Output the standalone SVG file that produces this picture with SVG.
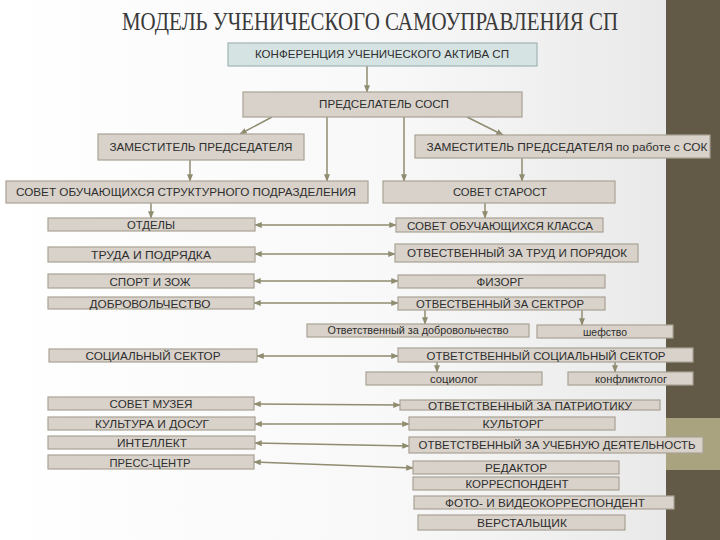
<svg xmlns="http://www.w3.org/2000/svg" width="720" height="540" viewBox="0 0 720 540">
<defs>
<linearGradient id="bg" x1="0" y1="0" x2="1" y2="0">
<stop offset="0" stop-color="#ffffff"/>
<stop offset="0.55" stop-color="#f8f8f8"/>
<stop offset="1" stop-color="#e6e6e6"/>
</linearGradient>
<marker id="ah" viewBox="0 0 10 10" refX="9" refY="5" markerWidth="5" markerHeight="5" orient="auto-start-reverse">
<path d="M0,1 L10,5 L0,9 z" fill="#8f8c70"/>
</marker>
<style>
.b{fill:#d8d2ca;stroke:#a9a294;stroke-width:1.2}
.bc{fill:#d6e3e3;stroke:#a0b4b4;stroke-width:1.2}
.t{font-family:"Liberation Sans",Arial,sans-serif;font-size:11px;fill:#2e2e2e;text-anchor:middle}
.s{font-size:10px}
.c{fill:none;stroke:#8f8c70;stroke-width:1.5}
.a{marker-end:url(#ah)}
.d{marker-start:url(#ah);marker-end:url(#ah)}
</style>
</defs>
<rect x="0" y="0" width="720" height="540" fill="url(#bg)"/>
<rect x="666" y="0" width="54" height="540" fill="#625a46"/>
<rect x="666" y="418" width="54" height="52" fill="#a9a37f"/>
<text x="370" y="30" font-family="'Liberation Serif','Times New Roman',serif" font-size="25" fill="#3a3a3a" text-anchor="middle" textLength="496" lengthAdjust="spacingAndGlyphs">МОДЕЛЬ УЧЕНИЧЕСКОГО САМОУПРАВЛЕНИЯ СП</text>

<g id="connectors">
<path class="c a" d="M367,66 L367,92"/>
<path class="c a" d="M272,117 L240,134"/>
<path class="c a" d="M327,117 L327,181"/>
<path class="c a" d="M404,117 L404,181"/>
<path class="c a" d="M467,117 L503,135"/>
<path class="c a" d="M190,160 L190,181"/>
<path class="c a" d="M522,158 L522,181"/>
<path class="c a" d="M151,203 L151,218"/>
<path class="c a" d="M485,203 L485,218"/>
<path class="c d" d="M255,225 L396,225"/>
<path class="c d" d="M255,254 L395,254"/>
<path class="c d" d="M254,281 L398,281"/>
<path class="c d" d="M254,303 L398,303"/>
<path class="c a" d="M425,310 L425,324"/>
<path class="c a" d="M582,310 L582,325"/>
<path class="c d" d="M257,356 L398,356"/>
<path class="c a" d="M437,362 L437,372"/>
<path class="c a" d="M615,362 L615,372"/>
<path class="c d" d="M254,404 L400,405"/>
<path class="c d" d="M255,424 L409,424"/>
<path class="c d" d="M255,443 L409,446"/>
<path class="c d" d="M254,462 L413,468"/>
</g>

<g id="n-conf"><rect class="bc" x="228" y="43" width="309" height="23"/><text class="t" x="382" y="58" textLength="254" lengthAdjust="spacingAndGlyphs">КОНФЕРЕНЦИЯ УЧЕНИЧЕСКОГО АКТИВА СП</text></g>
<g id="n-pred"><rect class="b" x="243" y="92" width="279" height="25"/><text class="t" x="384" y="108" textLength="130" lengthAdjust="spacingAndGlyphs">ПРЕДСЕЛАТЕЛЬ СОСП</text></g>
<g id="n-zam1"><rect class="b" x="98" y="134" width="206" height="26"/><text class="t" x="201" y="151" textLength="183" lengthAdjust="spacingAndGlyphs">ЗАМЕСТИТЕЛЬ ПРЕДСЕДАТЕЛЯ</text></g>
<g id="n-zam2"><rect class="b" x="415" y="135" width="295" height="23"/><text class="t" x="567" y="151" textLength="281" lengthAdjust="spacingAndGlyphs">ЗАМЕСТИТЕЛЬ ПРЕДСЕДАТЕЛЯ по работе с СОК</text></g>
<g id="n-sovet-sp"><rect class="b" x="6" y="181" width="362" height="22"/><text class="t" x="186" y="196" textLength="340" lengthAdjust="spacingAndGlyphs">СОВЕТ ОБУЧАЮЩИХСЯ СТРУКТУРНОГО ПОДРАЗДЕЛЕНИЯ</text></g>
<g id="n-starost"><rect class="b" x="383" y="181" width="232" height="22"/><text class="t" x="500" y="196" textLength="94" lengthAdjust="spacingAndGlyphs">СОВЕТ СТАРОСТ</text></g>

<g id="n-otdely"><rect class="b" x="48" y="218" width="207" height="13"/><text class="t" x="151" y="229" textLength="48" lengthAdjust="spacingAndGlyphs">ОТДЕЛЫ</text></g>
<g id="n-truda"><rect class="b" x="48" y="247" width="207" height="15"/><text class="t" x="151" y="259" textLength="120" lengthAdjust="spacingAndGlyphs">ТРУДА И ПОДРЯДКА</text></g>
<g id="n-sport"><rect class="b" x="48" y="274" width="206" height="14"/><text class="t" x="150" y="285.5" textLength="81" lengthAdjust="spacingAndGlyphs">СПОРТ И ЗОЖ</text></g>
<g id="n-dobro"><rect class="b" x="48" y="297" width="206" height="12"/><text class="t" x="150" y="307.5" textLength="121" lengthAdjust="spacingAndGlyphs">ДОБРОВОЛЬЧЕСТВО</text></g>
<g id="n-soc"><rect class="b" x="49" y="349" width="208" height="13"/><text class="t" x="153" y="360" textLength="135" lengthAdjust="spacingAndGlyphs">СОЦИАЛЬНЫЙ СЕКТОР</text></g>
<g id="n-muzey"><rect class="b" x="48" y="397" width="206" height="13"/><text class="t" x="151" y="408" textLength="83" lengthAdjust="spacingAndGlyphs">СОВЕТ МУЗЕЯ</text></g>
<g id="n-kult"><rect class="b" x="48" y="417" width="207" height="13"/><text class="t" x="152" y="428" textLength="114" lengthAdjust="spacingAndGlyphs">КУЛЬТУРА И ДОСУГ</text></g>
<g id="n-intel"><rect class="b" x="48" y="436" width="207" height="13"/><text class="t" x="152" y="447" textLength="70" lengthAdjust="spacingAndGlyphs">ИНТЕЛЛЕКТ</text></g>
<g id="n-press"><rect class="b" x="48" y="455" width="206" height="14"/><text class="t" x="150" y="466.5" textLength="81" lengthAdjust="spacingAndGlyphs">ПРЕСС-ЦЕНТР</text></g>

<g id="n-klass"><rect class="b" x="396" y="218" width="207" height="14"/><text class="t" x="500" y="229.5" textLength="186" lengthAdjust="spacingAndGlyphs">СОВЕТ ОБУЧАЮЩИХСЯ КЛАССА</text></g>
<g id="n-trud"><rect class="b" x="395" y="244" width="243" height="18"/><text class="t" x="517" y="257" textLength="220" lengthAdjust="spacingAndGlyphs">ОТВЕСТВЕННЫЙ ЗА ТРУД И ПОРЯДОК</text></g>
<g id="n-fizorg"><rect class="b" x="398" y="275" width="207" height="13"/><text class="t" x="500" y="286" textLength="47" lengthAdjust="spacingAndGlyphs">ФИЗОРГ</text></g>
<g id="n-sektror"><rect class="b" x="398" y="297" width="207" height="13"/><text class="t" x="500" y="308" textLength="168" lengthAdjust="spacingAndGlyphs">ОТВЕСТВЕННЫЙ ЗА СЕКТРОР</text></g>
<g id="n-otvdobro"><rect class="b" x="307" y="324" width="222" height="13"/><text class="t s" x="418" y="334" textLength="181" lengthAdjust="spacingAndGlyphs">Ответственный за добровольчество</text></g>
<g id="n-shef"><rect class="b" x="537" y="325" width="136" height="13"/><text class="t s" x="605" y="335.5" textLength="44" lengthAdjust="spacingAndGlyphs">шефство</text></g>
<g id="n-otvsoc"><rect class="b" x="398" y="348" width="295" height="14"/><text class="t" x="546" y="359.5" textLength="239" lengthAdjust="spacingAndGlyphs">ОТВЕТСТВЕННЫЙ СОЦИАЛЬНЫЙ СЕКТОР</text></g>
<g id="n-sociolog"><rect class="b" x="366" y="372" width="176" height="13"/><text class="t s" x="454" y="382.5" textLength="48" lengthAdjust="spacingAndGlyphs">социолог</text></g>
<g id="n-konflikt"><rect class="b" x="568" y="372" width="125" height="13"/><text class="t s" x="631" y="382.5" textLength="72" lengthAdjust="spacingAndGlyphs">конфликтолог</text></g>
<g id="n-patriot"><rect class="b" x="400" y="400" width="260" height="10"/><text class="t" x="530" y="409.5" textLength="204" lengthAdjust="spacingAndGlyphs">ОТВЕТСТВЕННЫЙ ЗА ПАТРИОТИКУ</text></g>
<g id="n-kultorg"><rect class="b" x="409" y="417" width="206" height="13"/><text class="t" x="513" y="428" textLength="61" lengthAdjust="spacingAndGlyphs">КУЛЬТОРГ</text></g>
<g id="n-ucheb"><rect class="b" x="409" y="437" width="294" height="16"/><text class="t" x="557" y="449" textLength="277" lengthAdjust="spacingAndGlyphs">ОТВЕТСТВЕННЫЙ ЗА УЧЕБНУЮ ДЕЯТЕЛЬНОСТЬ</text></g>
<g id="n-redaktor"><rect class="b" x="413" y="461" width="206" height="13"/><text class="t" x="516" y="472" textLength="62" lengthAdjust="spacingAndGlyphs">РЕДАКТОР</text></g>
<g id="n-korr"><rect class="b" x="413" y="477" width="206" height="13"/><text class="t" x="517" y="488" textLength="103" lengthAdjust="spacingAndGlyphs">КОРРЕСПОНДЕНТ</text></g>
<g id="n-foto"><rect class="b" x="414" y="496" width="260" height="13"/><text class="t" x="545" y="507" textLength="200" lengthAdjust="spacingAndGlyphs">ФОТО- И ВИДЕОКОРРЕСПОНДЕНТ</text></g>
<g id="n-verst"><rect class="b" x="418" y="515" width="207" height="15"/><text class="t" x="522" y="527" textLength="90" lengthAdjust="spacingAndGlyphs">ВЕРСТАЛЬЩИК</text></g>
</svg>
